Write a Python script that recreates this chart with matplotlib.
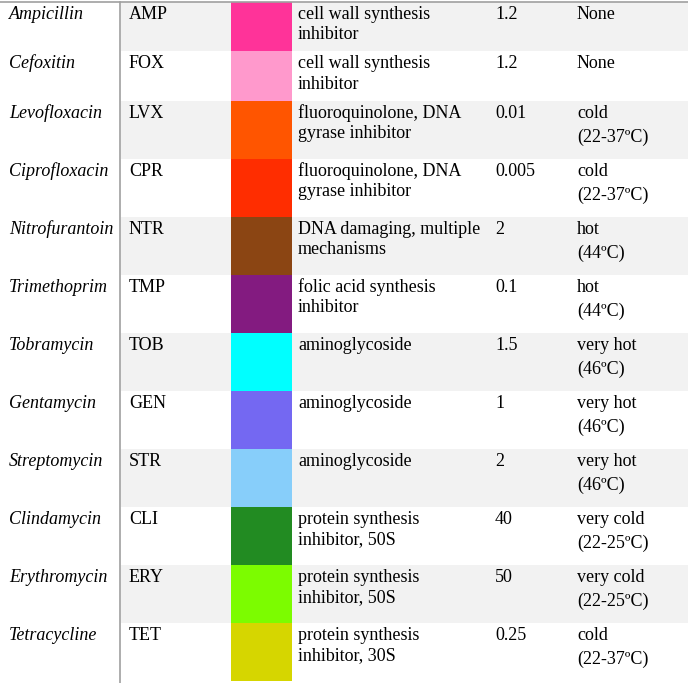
import numpy as np
import matplotlib
matplotlib.use("Agg")
import matplotlib.pyplot as plt

# table contents
names = ["Ampicillin", "Cefoxitin", "Levofloxacin", "Ciprofloxacin", "Nitrofurantoin",
         "Trimethoprim", "Tobramycin", "Gentamycin", "Streptomycin", "Clindamycin",
         "Erythromycin", "Tetracycline"]
abbrs = ["AMP", "FOX", "LVX", "CPR", "NTR", "TMP", "TOB", "GEN", "STR", "CLI", "ERY", "TET"]
colors = ["#FF3399", "#FF99CC", "#FF5500", "#FF2D00", "#8B4513", "#831B80",
          "#00FFFF", "#7468F2", "#87CEFA", "#228B22", "#7CFC00", "#D6D600"]
mechanisms = ["cell wall synthesis\ninhibitor", "cell wall synthesis\ninhibitor",
              "fluoroquinolone, DNA\ngyrase inhibitor", "fluoroquinolone, DNA\ngyrase inhibitor",
              "DNA damaging, multiple\nmechanisms", "folic acid synthesis\ninhibitor",
              "aminoglycoside", "aminoglycoside", "aminoglycoside",
              "protein synthesis\ninhibitor, 50S", "protein synthesis\ninhibitor, 50S",
              "protein synthesis\ninhibitor, 30S"]
concentrations = ["1.2", "1.2", "0.01", "0.005", "2", "0.1", "1.5", "1", "2", "40", "50", "0.25"]
temperatures = ["None", "None", "cold\n(22-37ºC)", "cold\n(22-37ºC)", "hot\n(44ºC)", "hot\n(44ºC)",
                "very hot\n(46ºC)", "very hot\n(46ºC)", "very hot\n(46ºC)",
                "very cold\n(22-25ºC)", "very cold\n(22-25ºC)", "cold\n(22-37ºC)"]

plt.rcParams['font.family'] = ['Liberation Serif', 'DejaVu Serif']
W, H = 688, 683
fig = plt.figure(figsize=(W / 100, H / 100), dpi=100)
ax = fig.add_axes([0, 0, 1, 1])
ax.set_xlim(0, W)
ax.set_ylim(H, 0)
ax.axis('off')

# row heights: taller rows when the last column wraps
heights = np.array([58.05 if "\n" in t else 49.35 for t in temperatures])
tops = 2 + np.concatenate([[0], np.cumsum(heights)[:-1]])
centers = tops + heights / 2

# zebra shading (skip first column)
shade = [i % 2 == 0 for i in range(len(names))]
ax.barh(centers[shade], W - 121, height=heights[shade], left=121,
        color="#F2F2F2", edgecolor="none", zorder=0)

# colour swatches
ax.barh(centers, 61, height=heights, left=231, color=colors, edgecolor="none", zorder=1)

# rules
ax.axhline(2, color="#A0A0A0", lw=1.2, zorder=2)
ax.plot([120, 120], [2, H], color="#A0A0A0", lw=1.2, zorder=2)

fs = 13
for i in range(len(names)):
    base = tops[i] + 16.8
    ax.text(9, base, names[i], fontsize=fs, style='italic', va='baseline', ha='left')
    ax.text(129, base, abbrs[i], fontsize=fs, va='baseline', ha='left')
    for j, line in enumerate(mechanisms[i].split("\n")):
        ax.text(298, base + 20.5 * j, line, fontsize=fs, va='baseline', ha='left')
    ax.text(495, base, concentrations[i], fontsize=fs, va='baseline', ha='left')
    for j, line in enumerate(temperatures[i].split("\n")):
        ax.text(577, base + 24 * j, line, fontsize=fs, va='baseline', ha='left')

fig.savefig("out.png", dpi=100)
